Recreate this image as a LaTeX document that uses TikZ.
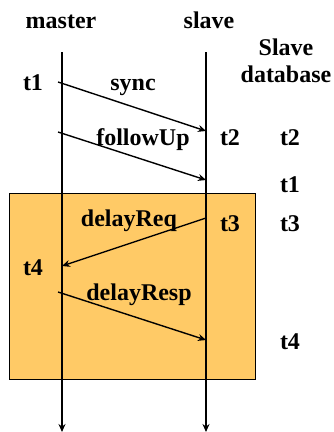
\documentclass[tikz,border=0pt]{standalone}
\usepackage{fontspec}
\setmainfont{Liberation Serif}
\usetikzlibrary{arrows.meta}
\definecolor{boxfill}{HTML}{FFCA66}
\begin{document}
\begin{tikzpicture}[x=1pt,y=-1pt,
  lbl/.style={font=\fontsize{24}{28}\selectfont\bfseries, inner sep=0pt, anchor=base},
  msg/.style={line width=1.4pt, -{Stealth[length=8pt,width=7pt]}},
  life/.style={line width=1.6pt, -{Stealth[length=8pt,width=7pt]}}]
\useasboundingbox (0,0) rectangle (334,432);
% shaded box
\node[draw=black, line width=1.4pt, fill=boxfill, minimum width=246pt, minimum height=186pt, inner sep=0pt, anchor=north west] (box) at (9,193) {};
% lifelines
\coordinate (mtop) at (62,52);
\coordinate (mbot) at (62,432);
\coordinate (stop) at (206,52);
\coordinate (sbot) at (206,432);
\draw[life] (mtop) -- (mbot);
\draw[life] (stop) -- (sbot);
% headings
\node[lbl] (master) at (61,28) {master};
\node[lbl] (slave) at (209,28) {slave};
\node[lbl] (sdb1) at (286,55) {Slave};
\node[lbl] (sdb2) at (286,82) {database};
% message endpoints
\coordinate (s1) at (58,82);  \coordinate (s2) at (206,131);
\coordinate (f1) at (58,132); \coordinate (f2) at (206,180);
\coordinate (d1) at (206,218); \coordinate (d2) at (62,266);
\coordinate (r1) at (58,292); \coordinate (r2) at (206,340);
\draw[msg] (s1) -- (s2);
\draw[msg] (f1) -- (f2);
\draw[msg] (d1) -- (d2);
\draw[msg] (r1) -- (r2);
% message labels
\node[lbl] (sync) at (133,90) {sync};
\node[lbl] (fup) at (143,145) {followUp};
\node[lbl] (dreq) at (129,226) {delayReq};
\node[lbl] (dresp) at (139,300) {delayResp};
% time labels
\node[lbl] (mt1) at (33,90) {t1};
\node[lbl] (mt4) at (33,275) {t4};
\node[lbl] (st2) at (230,145) {t2};
\node[lbl] (st3) at (230,231) {t3};
\node[lbl] (dt2) at (290,145) {t2};
\node[lbl] (dt1) at (290,192) {t1};
\node[lbl] (dt3) at (290,231) {t3};
\node[lbl] (dt4) at (290,349) {t4};
\end{tikzpicture}
\end{document}
